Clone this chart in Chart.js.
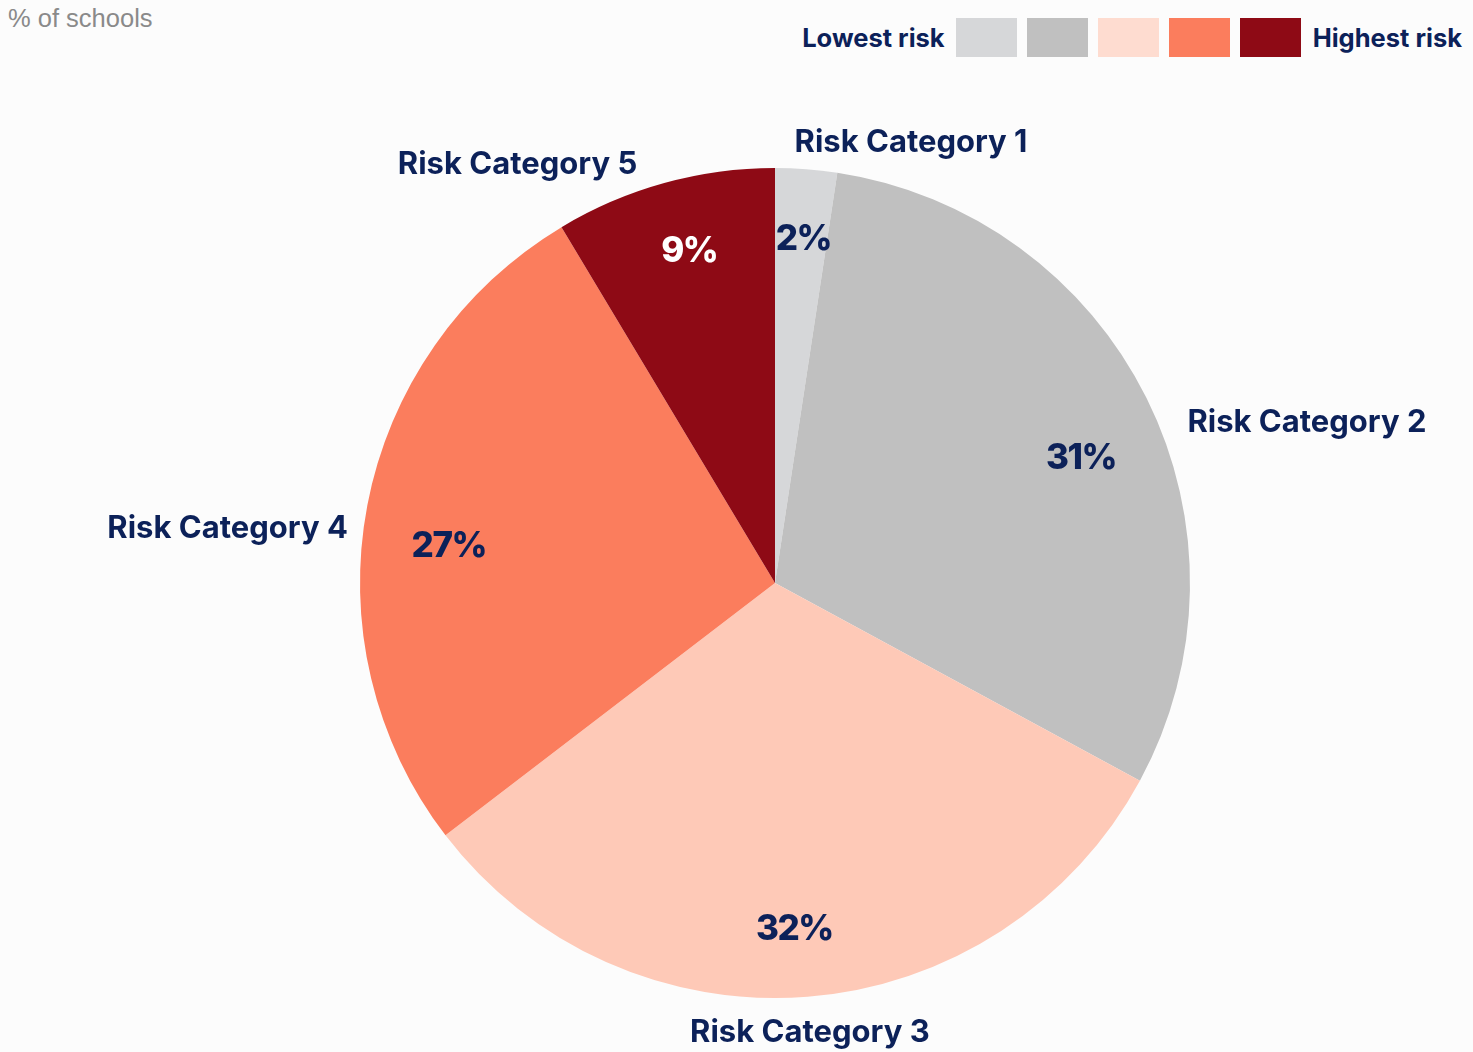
<!DOCTYPE html>
<html>
<head>
<meta charset="utf-8">
<script src="https://cdn.jsdelivr.net/npm/chart.js@4/dist/chart.umd.min.js"></script>
<style>
  html, body { margin: 0; padding: 0; background: #fcfcfc; }
  body { width: 1473px; height: 1052px; position: relative; overflow: hidden; font-family: Inter, "Noto Sans", sans-serif; }
  #subtitle { position: absolute; left: 8px; top: 4px; font-family: "Liberation Sans", Arial, sans-serif; font-size: 25.5px; color: #8a8a8a; }
  #legend { position: absolute; right: 11px; top: 17px; display: flex; align-items: center; font-weight: 700; font-size: 25.5px; color: #0c2159; line-height: 41px; }
  #legend .sw { width: 61px; height: 39px; margin-left: 10px; }
  #legend .lbl-lo { margin-right: 1px; }
  #legend .lbl-hi { margin-left: 12px; }
  #wrap { position: absolute; left: 0; top: 0; width: 1473px; height: 1052px; }
</style>
</head>
<body>
<div id="subtitle">% of schools</div>
<div id="legend"></div>
<div id="wrap"><canvas id="c"></canvas></div>
<script>
const categories = ['Risk Category 1', 'Risk Category 2', 'Risk Category 3', 'Risk Category 4', 'Risk Category 5'];
const shares = [2.4, 30.5, 31.7, 26.8, 8.6];
const sliceColors = ['#d6d7d9', '#c0c0c0', '#fec9b7', '#fb7d5d', '#8e0a15'];
const legendColors = ['#d6d7d9', '#c0c0c0', '#fedcd0', '#fb7d5d', '#8e0a15'];
const legendEnds = ['Lowest risk', 'Highest risk'];
const pctTextColors = ['#0c2159', '#0c2159', '#0c2159', '#0c2159', '#ffffff'];

// legend
const lg = document.getElementById('legend');
const lo = document.createElement('span'); lo.className = 'lbl-lo'; lo.textContent = legendEnds[0]; lg.appendChild(lo);
legendColors.forEach(c => { const s = document.createElement('span'); s.className = 'sw'; s.style.background = c; lg.appendChild(s); });
const hi = document.createElement('span'); hi.className = 'lbl-hi'; hi.textContent = legendEnds[1]; lg.appendChild(hi);

const labelPlugin = {
  id: 'pieLabels',
  afterDatasetsDraw(chart, args, opts) {
    const ctx = chart.ctx;
    const meta = chart.getDatasetMeta(0);
    meta.data.forEach((arc, i) => {
      const p = arc.getProps(['x', 'y', 'startAngle', 'endAngle', 'outerRadius'], true);
      const mid = (p.startAngle + p.endAngle) / 2;
      const cos = Math.cos(mid), sin = Math.sin(mid);
      const pn = opts.pctNudge[i], ln = opts.labelNudge[i];
      // percentage label inside
      ctx.save();
      ctx.font = '800 35px Inter';
      ctx.letterSpacing = '-1.5px';
      ctx.fillStyle = pctTextColors[i];
      ctx.textAlign = 'center';
      ctx.textBaseline = 'middle';
      const rr = p.outerRadius * 0.81;
      ctx.fillText(Math.round(shares[i]) + '%', p.x + cos * rr + pn[0], p.y + sin * rr + pn[1]);
      ctx.restore();
      // category label outside
      ctx.save();
      ctx.font = '700 31px Inter';
      ctx.fillStyle = '#0c2159';
      const ro = p.outerRadius + 30;
      const ax = p.x + cos * ro + ln[0], ay = p.y + sin * ro + ln[1];
      if (sin < -0.9) ctx.textAlign = cos >= 0 ? 'left' : 'right';
      else if (cos > 0.3) ctx.textAlign = 'left';
      else if (cos < -0.3) ctx.textAlign = 'right';
      else ctx.textAlign = 'center';
      ctx.textBaseline = 'middle';
      ctx.fillText(categories[i], ax, ay);
      ctx.restore();
    });
  }
};

new Chart(document.getElementById('c'), {
  type: 'pie',
  data: {
    labels: categories,
    datasets: [{ data: shares, backgroundColor: sliceColors, borderWidth: 0 }]
  },
  options: {
    responsive: true,
    maintainAspectRatio: false,
    animation: false,
    layout: { padding: { top: 168, bottom: 54, left: 360, right: 283 } },
    plugins: {
      legend: { display: false },
      tooltip: { enabled: false },
      pieLabels: {
        pctNudge: [[3, -8], [5, 25], [-7, 11], [4, 26], [4, -8]],
        labelNudge: [[-14, 3], [14, 38], [0, 6], [10, 29], [-19, 11]]
      }
    }
  },
  plugins: [labelPlugin]
});
</script>
</body>
</html>
